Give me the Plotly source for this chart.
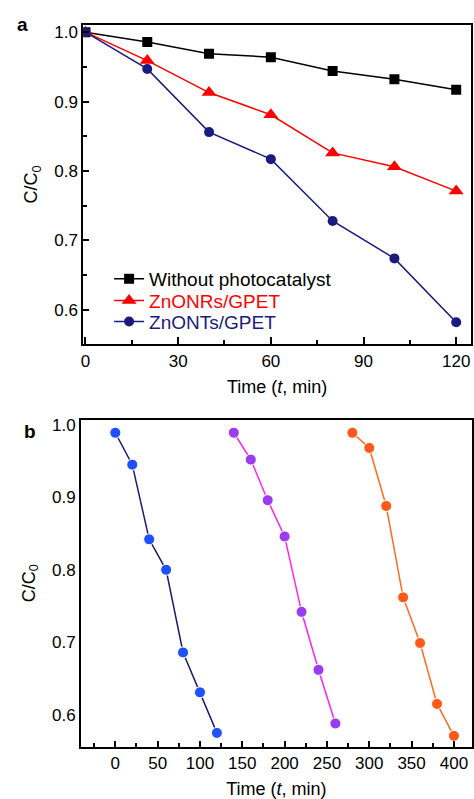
import plotly.graph_objects as go

# Panel a data
time_a = [0, 20, 40, 60, 80, 100, 120]
without_cat = [1.0, 0.986, 0.969, 0.964, 0.944, 0.932, 0.917]
znonrs = [1.0, 0.959, 0.913, 0.881, 0.826, 0.806, 0.771]
znonts = [1.0, 0.947, 0.856, 0.817, 0.728, 0.674, 0.582]

# Panel b data (three consecutive cycles)
time_b1 = [0, 20, 40, 60, 80, 100, 120]
cycle1 = [0.989, 0.945, 0.842, 0.800, 0.686, 0.631, 0.575]
time_b2 = [140, 160, 180, 200, 220, 240, 260]
cycle2 = [0.989, 0.952, 0.896, 0.846, 0.742, 0.662, 0.588]
time_b3 = [280, 300, 320, 340, 360, 380, 400]
cycle3 = [0.989, 0.968, 0.888, 0.762, 0.699, 0.615, 0.571]

FONT = "Arial, Liberation Sans, sans-serif"
NAVY = "#1a1a80"

fig = go.Figure()

fig.add_trace(go.Scatter(x=time_a, y=without_cat, mode="lines+markers",
                         name="Without photocatalyst", legend="legend",
                         line=dict(color="black", width=1.5),
                         marker=dict(symbol="square", size=10, color="black"),
                         xaxis="x", yaxis="y"))
fig.add_trace(go.Scatter(x=time_a, y=znonrs, mode="lines+markers",
                         name="<span style='color:#ff0000'>ZnONRs/GPET</span>", legend="legend2",
                         line=dict(color="#ff0000", width=1.5),
                         marker=dict(symbol="triangle-up", size=13, color="#ff0000"),
                         xaxis="x", yaxis="y"))
fig.add_trace(go.Scatter(x=time_a, y=znonts, mode="lines+markers",
                         name="<span style='color:%s'>ZnONTs/GPET</span>" % NAVY, legend="legend3",
                         line=dict(color=NAVY, width=1.5),
                         marker=dict(symbol="circle", size=10, color=NAVY),
                         xaxis="x", yaxis="y"))

fig.add_trace(go.Scatter(x=time_b1, y=cycle1, mode="lines+markers", showlegend=False,
                         line=dict(color="#1a1a6e", width=1.5),
                         marker=dict(size=11, color="#1f4fff", line=dict(color="white", width=1)),
                         xaxis="x2", yaxis="y2"))
fig.add_trace(go.Scatter(x=time_b2, y=cycle2, mode="lines+markers", showlegend=False,
                         line=dict(color="#ff22ee", width=1.5),
                         marker=dict(size=11, color="#9b3cf0", line=dict(color="white", width=1)),
                         xaxis="x2", yaxis="y2"))
fig.add_trace(go.Scatter(x=time_b3, y=cycle3, mode="lines+markers", showlegend=False,
                         line=dict(color="#ff6a20", width=1.5),
                         marker=dict(size=11, color="#ff5a1a", line=dict(color="white", width=1)),
                         xaxis="x2", yaxis="y2"))

tickfont = dict(family=FONT, size=17, color="black")
axis_common = dict(showline=True, linecolor="black", linewidth=2, mirror=True,
                   showgrid=False, zeroline=False, tickfont=tickfont,
                   tickcolor="black", tickwidth=1.5)

title_x = dict(text="Time (<i>t</i>, min)", font=dict(family=FONT, size=18, color="black"))
title_y = dict(text="C/C<sub>0</sub>", font=dict(family=FONT, size=18, color="black"))


def legend_at(ycenter):
    return dict(x=107/474, y=1 - ycenter/799, xanchor="left", yanchor="middle",
                bgcolor="rgba(0,0,0,0)", font=dict(family=FONT, size=19, color="black"),
                itemwidth=30)


fig.update_layout(
    width=474, height=799,
    margin=dict(l=0, r=0, t=0, b=0),
    paper_bgcolor="white", plot_bgcolor="white",
    font=dict(family=FONT, size=17, color="black"),
    xaxis=dict(domain=[81/474, 472/474], anchor="y", range=[-0.7, 124.8],
               tickmode="linear", tick0=0, dtick=30, ticks="inside", ticklen=7,
               minor=dict(dtick=15, ticks="inside", ticklen=4, tickcolor="black", tickwidth=1.5),
               title=dict(title_x, standoff=11), **axis_common),
    yaxis=dict(domain=[1 - 343/799, 1 - 20.7/799], anchor="x", range=[0.550, 1.011],
               tickmode="linear", tick0=0.6, dtick=0.1, tickformat=".1f",
               ticks="inside", ticklen=6,
               minor=dict(dtick=0.05, ticks="inside", ticklen=4, tickcolor="black", tickwidth=1.5),
               title=dict(title_y, standoff=12), **axis_common),
    xaxis2=dict(domain=[78.7/474, 472.7/474], anchor="y2", range=[-40.5, 421],
                tickmode="linear", tick0=0, dtick=50, ticks="inside", ticklen=6,
                minor=dict(dtick=25, ticks="inside", ticklen=4, tickcolor="black", tickwidth=1.5),
                title=dict(title_x, standoff=13), **axis_common),
    yaxis2=dict(domain=[1 - 748.3/799, 1 - 419/799], anchor="x2", range=[0.556, 1.0068],
                tickmode="linear", tick0=0.6, dtick=0.1, tickformat=".1f", ticks="",
                title=dict(title_y, standoff=12), **axis_common),
    legend=legend_at(277),
    legend2=legend_at(299),
    legend3=legend_at(320),
    annotations=[
        dict(text="<b>a</b>", x=20/474, y=1 - 21/799, xref="paper", yref="paper",
             xanchor="center", yanchor="middle",
             showarrow=False, font=dict(family=FONT, size=19, color="black")),
        dict(text="<b>b</b>", x=27/474, y=1 - 431/799, xref="paper", yref="paper",
             xanchor="center", yanchor="middle",
             showarrow=False, font=dict(family=FONT, size=19, color="black")),
    ],
)

fig.write_html("out.html", config={"displayModeBar": False},
               post_script="document.body.style.margin='0px';document.body.style.overflow='hidden';")
